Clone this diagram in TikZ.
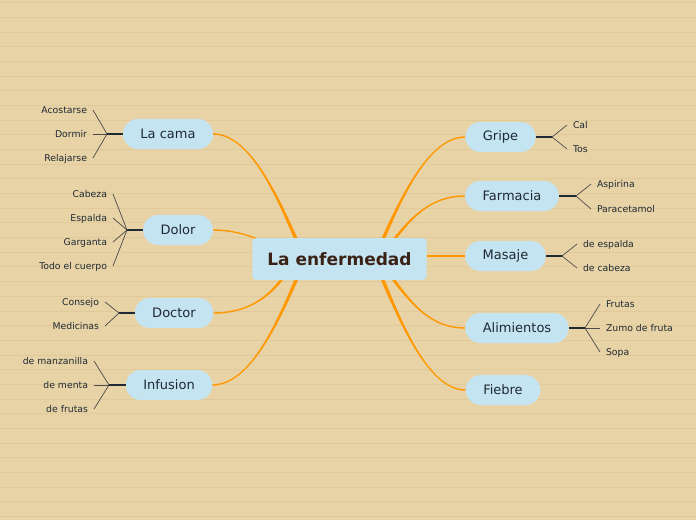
\documentclass[tikz,border=0pt]{standalone}
\usepackage{fontspec}
\setmainfont{DejaVu Sans}
\usetikzlibrary{positioning,calc,backgrounds}
\definecolor{papel}{HTML}{E8D3A6}
\definecolor{raya}{HTML}{E0CA9B}
\definecolor{celeste}{HTML}{C4E4F1}
\definecolor{naranja}{HTML}{FF9800}
\definecolor{tinta}{HTML}{1F2933}
\definecolor{marron}{HTML}{3A2216}
\definecolor{gris}{HTML}{4A4A4A}

\tikzset{
  raiz/.style={fill=celeste,rounded corners=4pt,minimum height=42pt,inner xsep=15pt,
    font=\fontsize{17}{20}\selectfont\bfseries,text=marron},
  tema/.style={fill=celeste,rounded corners=15pt,minimum height=30pt,inner xsep=17.5pt,
    font=\fontsize{13}{15}\selectfont,text=tinta},
  hoja/.style={inner xsep=1pt,inner ysep=0pt,outer xsep=5pt,text height=6.8pt,text depth=0.6pt,
    font=\fontsize{9.3}{11}\selectfont,text=tinta},
  hojaI/.style={hoja,anchor=east},
  hojaD/.style={hoja,anchor=west},
  tallo/.style={line width=1.3pt,tinta},
  ramita/.style={line width=0.7pt,gris},
}

% rama naranja que se estrecha: inicio, control 1, control 2, fin, sentido
\newcommand{\rama}[5]{%
  \fill[naranja] ($(#1)+(-2.2,0)$) .. controls ($(#2)+(-1.6,0)$) and ($(#3)+(0,{(#5)*0.8})$) .. ($(#4)+(0,{(#5)*0.7})$)
    -- ($(#4)+(0,{-(#5)*0.7})$) .. controls ($(#3)+(0,{-(#5)*0.8})$) and ($(#2)+(1.6,0)$) .. ($(#1)+(2.2,0)$) -- cycle;}

\begin{document}
\begin{tikzpicture}[x=1pt,y=-1pt]
  \useasboundingbox (0,0) rectangle (696,520);

  % idea central y temas
  \node[raiz] (raiz) at (339.5,259) {La enfermedad};
  \node[tema] (lacama) at (168,134) {La cama};
  \node[tema] (dolor) at (178,230) {Dolor};
  \node[tema] (doctor) at (174,313) {Doctor};
  \node[tema] (infusion) at (169,385) {Infusion};
  \node[tema] (gripe) at (500.5,137) {Gripe};
  \node[tema] (farmacia) at (512,196) {Farmacia};
  \node[tema] (masaje) at (505.5,256) {Masaje};
  \node[tema] (alimientos) at (517,328) {Alimientos};
  \node[tema] (fiebre) at (503,390) {Fiebre};

  % hojas de la izquierda
  \coordinate (fcama) at (107,134);
  \draw[tallo] (lacama.west) -- (fcama);
  \foreach \nom/\y/\txt in {acostarse/110/Acostarse,dormir/134/Dormir,relajarse/158/Relajarse}{
    \node[hojaI] (\nom) at (93,\y) {\txt};
    \draw[ramita] (fcama) -- (\nom.east);
  }
  \coordinate (fdolor) at (127,230);
  \draw[tallo] (dolor.west) -- (fdolor);
  \foreach \nom/\y/\txt in {cabeza/194/Cabeza,espalda/218/Espalda,garganta/242/Garganta,cuerpo/266/Todo el cuerpo}{
    \node[hojaI] (\nom) at (113,\y) {\txt};
    \draw[ramita] (fdolor) -- (\nom.east);
  }
  \coordinate (fdoctor) at (119,313);
  \draw[tallo] (doctor.west) -- (fdoctor);
  \foreach \nom/\y/\txt in {consejo/302/Consejo,medicinas/326/Medicinas}{
    \node[hojaI] (\nom) at (105,\y) {\txt};
    \draw[ramita] (fdoctor) -- (\nom.east);
  }
  \coordinate (finfusion) at (109,385);
  \draw[tallo] (infusion.west) -- (finfusion);
  \foreach \nom/\y/\txt in {manzanilla/361/de manzanilla,menta/385/de menta,defrutas/409/de frutas}{
    \node[hojaI] (\nom) at (94,\y) {\txt};
    \draw[ramita] (finfusion) -- (\nom.east);
  }

  % hojas de la derecha
  \coordinate (fgripe) at (552,137);
  \draw[tallo] (gripe.east) -- (fgripe);
  \foreach \nom/\y/\txt in {cal/125/Cal,tos/149/Tos}{
    \node[hojaD] (\nom) at (567,\y) {\txt};
    \draw[ramita] (fgripe) -- (\nom.west);
  }
  \coordinate (ffarmacia) at (576,196);
  \draw[tallo] (farmacia.east) -- (ffarmacia);
  \foreach \nom/\y/\txt in {aspirina/184/Aspirina,paracetamol/209/Paracetamol}{
    \node[hojaD] (\nom) at (591,\y) {\txt};
    \draw[ramita] (ffarmacia) -- (\nom.west);
  }
  \coordinate (fmasaje) at (562,256);
  \draw[tallo] (masaje.east) -- (fmasaje);
  \foreach \nom/\y/\txt in {despalda/244/de espalda,dcabeza/268/de cabeza}{
    \node[hojaD] (\nom) at (577,\y) {\txt};
    \draw[ramita] (fmasaje) -- (\nom.west);
  }
  \coordinate (falimientos) at (585,328);
  \draw[tallo] (alimientos.east) -- (falimientos);
  \foreach \nom/\y/\txt in {frutas/304/Frutas,zumo/328/Zumo de fruta,sopa/352/Sopa}{
    \node[hojaD] (\nom) at (600,\y) {\txt};
    \draw[ramita] (falimientos) -- (\nom.west);
  }

  % papel rayado y ramas
  \begin{scope}[on background layer]
    \fill[papel] (0,0) rectangle (696,520);
    \foreach \k in {0,...,35}
      \draw[raya,line width=0.9pt] (0,{2.7+14.68*\k}) -- (696,{2.7+14.68*\k});
    \coordinate (r1) at (306,262);
    \coordinate (r2) at (290,256);
    \coordinate (r3) at (293,262);
    \coordinate (r4) at (306,257);
    \coordinate (r5) at (373,262);
    \coordinate (r6) at (380,258);
    \coordinate (r7) at (380,261);
    \coordinate (r8) at (373,257);
    \rama{r1}{285,215}{255,134}{lacama.east}{1}
    \rama{r2}{265,240}{240,230}{dolor.east}{1}
    \rama{r3}{275,295}{250,313}{doctor.east}{-1}
    \rama{r4}{285,305}{255,385}{infusion.east}{-1}
    \rama{r5}{394,215}{424,137}{gripe.west}{-1}
    \rama{r6}{405,225}{425,196}{farmacia.west}{-1}
    \rama{r7}{405,295}{425,328}{alimientos.west}{1}
    \rama{r8}{394,305}{424,390}{fiebre.west}{1}
    \draw[naranja,line width=1.4pt] (raiz.east |- masaje) -- (masaje.west);
  \end{scope}
\end{tikzpicture}
\end{document}
